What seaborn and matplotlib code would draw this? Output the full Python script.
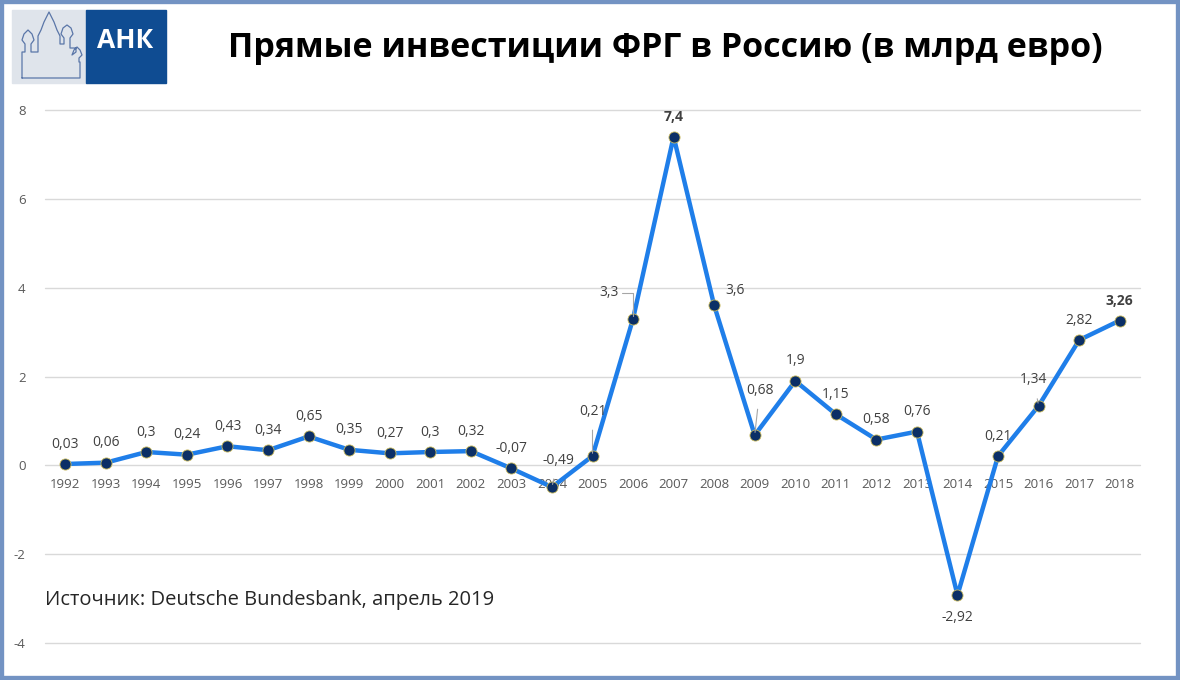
"""
Прямые инвестиции ФРГ в Россию, 1992-2018 (line chart).
"""
import matplotlib
matplotlib.use("Agg")
import matplotlib.pyplot as plt
from matplotlib.patches import Rectangle
from matplotlib.lines import Line2D
import seaborn as sns
import pandas as pd

# data
years = [str(y) for y in range(1992, 2019)]
values = [0.03, 0.06, 0.30, 0.24, 0.43, 0.34, 0.65, 0.35, 0.27, 0.30, 0.32,
          -0.07, -0.49, 0.21, 3.3, 7.4, 3.6, 0.68, 1.9, 1.15, 0.58, 0.76,
          -2.92, 0.21, 1.34, 2.82, 3.26]
y_ticks = [-4, -2, 0, 2, 4, 6, 8]
title = "Прямые инвестиции ФРГ в Россию (в млрд евро)"
source = "Источник: Deutsche Bundesbank, апрель 2019"
bold_labels = {"2007", "2018"}

# label placement (pixel offsets from the point), default is straight above
label_offsets = {
    "2004": (6, 27, True),
    "2005": (0, 45, True),
    "2006": (-24, 26, "elbow"),
    "2008": (21, 15, False),
    "2009": (5, 45, True),
    "2014": (0, -22, False),
    "2016": (-5, 26, True),
}

LINE_BLUE = "#1f7ee9"
NAVY = "#0b2f66"
FRAME = "#7393c3"

sns.set_style("white")
plt.rcParams["font.family"] = ["Open Sans", "DejaVu Sans"]

df = pd.DataFrame({"year": years, "value": values})

fig = plt.figure(figsize=(11.8, 6.8), dpi=100)
ax = fig.add_axes([45 / 1180, 1 - 643 / 680, 1095 / 1180, 533 / 680])

sns.lineplot(data=df, x="year", y="value", ax=ax, color=LINE_BLUE, lw=3.2,
             marker="o", markersize=8, markerfacecolor=NAVY,
             markeredgecolor="#c9b95a", markeredgewidth=0.6, zorder=3)

ax.set_xlim(-0.5, len(years) - 0.5)
ax.set_ylim(-4, 8)
ax.set_yticks(y_ticks)
ax.set_yticklabels([str(t) for t in y_ticks])
ax.yaxis.grid(True, color="#d9d9d9", lw=1)
for gl in ax.get_ygridlines():
    gl.set_clip_on(False)
ax.xaxis.grid(False)
for side in ["top", "right", "left"]:
    ax.spines[side].set_visible(False)
# category labels sit just under the zero line, Excel style
ax.spines["bottom"].set_position(("data", 0))
ax.spines["bottom"].set_visible(False)
ax.tick_params(axis="both", length=0, labelsize=9.5, labelcolor="#595959")
ax.tick_params(axis="x", pad=9)
ax.tick_params(axis="y", pad=14)
ax.set_xlabel("")
ax.set_ylabel("")

# data labels
for i, (yr, val) in enumerate(zip(years, values)):
    txt = f"{val:g}".replace(".", ",")
    dx, dy, leader = label_offsets.get(yr, (0, 20, False))
    weight = "bold" if yr in bold_labels else "normal"
    props = None
    if leader is True:
        props = dict(arrowstyle="-", color="#a6a6a6", lw=0.8, shrinkA=6, shrinkB=2)
    elif leader == "elbow":
        props = dict(arrowstyle="-", color="#a6a6a6", lw=0.8, shrinkA=0, shrinkB=2,
                     connectionstyle="angle,angleA=0,angleB=90,rad=0",
                     relpos=(1.0, 0.5))
    ax.annotate(txt, xy=(i, val), xytext=(dx, dy), textcoords="offset pixels",
                ha="center", va="center", fontsize=10, color="#404040",
                fontweight=weight, arrowprops=props, zorder=4)

# title and source
fig.text(665 / 1180, 1 - 48 / 680, title, ha="center", va="center",
         fontsize=24.5, fontweight="bold", color="black")
fig.text(45 / 1180, 1 - 600 / 680, source, ha="left", va="center",
         fontsize=14.5, color="#262626")

# logo: light panel with a church outline and a blue block with the letters
fig.patches.append(Rectangle((12 / 1180, 1 - 83 / 680), 75 / 1180, 73 / 680,
                             transform=fig.transFigure, color="#dfe4eb", zorder=1))
fig.patches.append(Rectangle((86 / 1180, 1 - 83 / 680), 80 / 1180, 73 / 680,
                             transform=fig.transFigure, color="#0f4c92", zorder=1))
fig.text(125 / 1180, 1 - 40 / 680, "АНК", ha="center", va="center",
         fontsize=19, fontweight="bold", color="white", zorder=2)
church_x = [22, 22, 25, 25, 22, 24, 28, 32, 34, 31, 31, 38, 38, 41, 44, 49,
            54, 57, 60, 60, 64, 64, 61, 63, 67, 71, 73, 70, 70, 76, 76, 72,
            74, 77, 80, 82, 79, 79, 80, 80, 22]
church_y = [78, 52, 52, 44, 40, 34, 30, 34, 40, 44, 52, 52, 36, 30, 22, 12,
            22, 30, 36, 44, 44, 38, 34, 28, 25, 28, 34, 38, 48, 48, 52, 55,
            50, 47, 50, 55, 58, 62, 62, 78, 78]
fig.lines.append(Line2D([x / 1180 for x in church_x],
                        [1 - y / 680 for y in church_y],
                        transform=fig.transFigure, color="#5a76a8", lw=0.9))

# outer frame
fig.patches.append(Rectangle((0, 0), 1, 1, transform=fig.transFigure,
                             fill=False, ec=FRAME, lw=6, zorder=10))

fig.savefig("out.png", dpi=100)
